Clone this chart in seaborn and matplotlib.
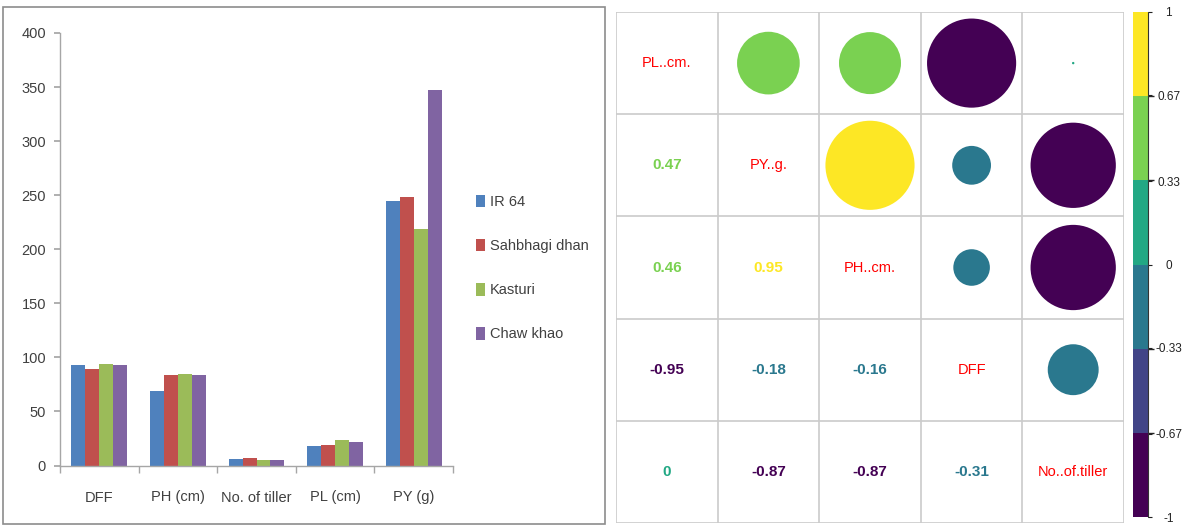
import numpy as np
import pandas as pd
import matplotlib
matplotlib.use("Agg")
import matplotlib.pyplot as plt
import seaborn as sns
from matplotlib.colors import ListedColormap, BoundaryNorm
from matplotlib.patches import Rectangle

# ---------------- data ----------------
traits = ["DFF", "PH (cm)", "No. of tiller", "PL (cm)", "PY (g)"]
varieties = ["IR 64", "Sahbhagi dhan", "Kasturi", "Chaw khao"]
ir64 = [92.5, 69.0, 5.6, 18.4, 245.0]
sahbhagi_dhan = [89.6, 84.0, 7.2, 19.3, 248.0]
kasturi = [94.3, 85.0, 5.3, 24.0, 219.0]
chaw_khao = [92.5, 83.4, 5.3, 21.5, 347.5]

corr_vars = ["PL..cm.", "PY..g.", "PH..cm.", "DFF", "No..of.tiller"]
corr_pl = [1.00, 0.47, 0.46, -0.95, 0.00]
corr_py = [0.47, 1.00, 0.95, -0.18, -0.87]
corr_ph = [0.46, 0.95, 1.00, -0.16, -0.87]
corr_dff = [-0.95, -0.18, -0.16, 1.00, -0.31]
corr_tiller = [0.00, -0.87, -0.87, -0.31, 1.00]

cbar_ticks = [-1, -0.67, -0.33, 0, 0.33, 0.67, 1]
cbar_labels = ["-1", "-0.67", "-0.33", "0", "0.33", "0.67", "1"]

# ---------------- styles ----------------
bar_colors = ["#4F81BD", "#C0504D", "#9BBB59", "#8064A2"]
viridis6 = ["#440154", "#414487", "#2A788E", "#22A884", "#7AD151", "#FDE725"]

sns.set_theme(style="white")
plt.rcParams['font.family'] = ['Liberation Sans', 'DejaVu Sans']

excel_text = "#404040"
left_fs = 10.5

W, H = 1182, 527
fig = plt.figure(figsize=(W / 100, H / 100), dpi=100)
fig.patch.set_facecolor("white")


def fx(px):
    return px / W


def fy(py):
    return 1 - py / H


# outer frame of left panel
fig.add_artist(Rectangle((fx(3), fy(524)), fx(605) - fx(3), fy(7) - fy(524),
                         transform=fig.transFigure, fill=False, edgecolor="#8C8C8C", lw=1.2))

# ---------------- left: grouped bars ----------------
df = pd.DataFrame({
    "trait": np.tile(traits, 4),
    "variety": np.repeat(varieties, len(traits)),
    "value": ir64 + sahbhagi_dhan + kasturi + chaw_khao,
})

ax = fig.add_axes([fx(60), fy(465.5), fx(453) - fx(60), fy(33) - fy(465.5)])
sns.barplot(data=df, x="trait", y="value", hue="variety", order=traits, hue_order=varieties,
            palette=bar_colors, width=0.71, saturation=1, errorbar=None, ax=ax, linewidth=0)
ax.set_xlim(-0.5, len(traits) - 0.5)
ax.set_ylim(0, 400)
ax.set_yticks(np.arange(0, 401, 50))
ax.set_xlabel("")
ax.set_ylabel("")
for s in ["top", "right"]:
    ax.spines[s].set_visible(False)
for s in ["left", "bottom"]:
    ax.spines[s].set_color("#A6A6A6")
    ax.spines[s].set_linewidth(1.0)
ax.set_xticks(np.arange(len(traits)))
ax.set_xticklabels(traits)
ax.set_xticks(np.arange(-0.5, len(traits)), minor=True)
ax.tick_params(axis="x", which="major", length=0, pad=18, labelsize=left_fs, labelcolor=excel_text)
ax.tick_params(axis="x", which="minor", length=5, color="#A6A6A6", direction="out", bottom=True)
ax.tick_params(axis="y", length=4, color="#A6A6A6", direction="out", left=True, pad=6,
               labelsize=left_fs, labelcolor=excel_text)
ax.set_facecolor("white")

handles, labels = ax.get_legend_handles_labels()
ax.legend(handles, labels, loc="center left", bbox_to_anchor=(fx(463), fy(268)),
          bbox_transform=fig.transFigure, frameon=False, handlelength=0.6, handleheight=0.95,
          handletextpad=0.35, labelspacing=2.05, fontsize=left_fs, labelcolor=excel_text)

# ---------------- right: correlation plot ----------------
corr = np.array([corr_pl, corr_py, corr_ph, corr_dff, corr_tiller])
n = len(corr_vars)
cmap = ListedColormap(viridis6)
norm = BoundaryNorm(np.linspace(-1, 1, 7), cmap.N)

axc = fig.add_axes([fx(616), fy(523), fx(1124) - fx(616), fy(12) - fy(523)])
axc.set_xlim(0, n)
axc.set_ylim(n, 0)
axc.axis("off")
grid_c = "#CBCBCB"
for k in range(n + 1):
    axc.plot([k, k], [0, n], color=grid_c, lw=1.2, solid_capstyle="butt", zorder=1)
    axc.plot([0, n], [k, k], color=grid_c, lw=1.2, solid_capstyle="butt", zorder=1)

fig.canvas.draw()
bb = axc.get_window_extent()
cell_px = min(bb.width, bb.height) / n

xs, ys, ss, cs = [], [], [], []
for i in range(n):
    for j in range(n):
        r = corr[i, j]
        color = cmap(norm(r))
        if i == j:
            axc.text(j + 0.5, i + 0.5, corr_vars[i], ha="center", va="center",
                     color="#FF0000", fontsize=10.5, zorder=3)
        elif i > j:
            axc.text(j + 0.5, i + 0.5, f"{r:g}", ha="center", va="center",
                     color=color, fontsize=11, fontweight="bold", zorder=3)
        else:
            rad_pt = 0.45 * np.sqrt(abs(r)) * cell_px * 72 / 100
            xs.append(j + 0.5)
            ys.append(i + 0.5)
            ss.append(max((2 * rad_pt) ** 2, 3.0))
            cs.append(color)
axc.scatter(xs, ys, s=ss, c=cs, linewidths=0, zorder=2)

# ---------------- colorbar ----------------
cax = fig.add_axes([fx(1133), fy(517), fx(1148) - fx(1133), fy(12) - fy(517)])
sm = matplotlib.cm.ScalarMappable(norm=norm, cmap=cmap)
cb = fig.colorbar(sm, cax=cax, ticks=cbar_ticks)
cb.outline.set_visible(False)
cb.ax.set_yticklabels(cbar_labels)
cb.ax.tick_params(length=3, width=0.8, color="#222222", pad=12, labelsize=8.5, right=True,
                  labelcolor="#222222")
for lab in cb.ax.get_yticklabels():
    lab.set_horizontalalignment("center")
cax.plot([1, 1], [0, 1], transform=cax.transAxes, color="#333333", lw=0.8, clip_on=False)

fig.savefig("out.png", dpi=100, facecolor="white")
